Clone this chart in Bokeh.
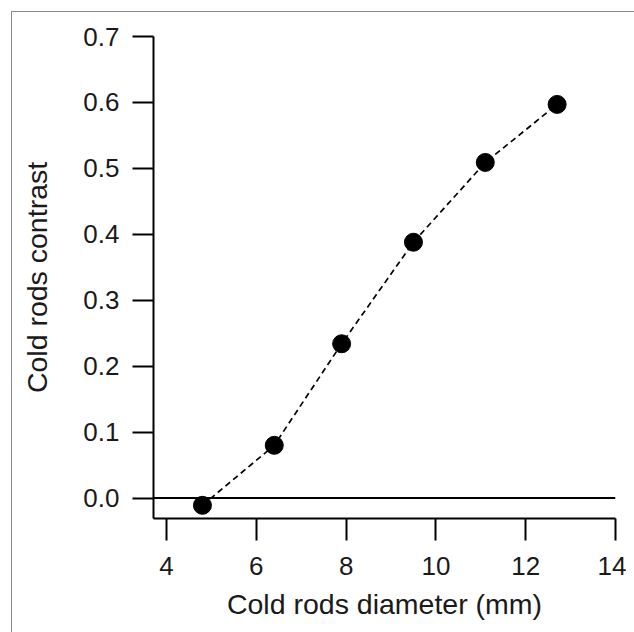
from bokeh.plotting import figure
from bokeh.models import Range1d, Span, FixedTicker, PrintfTickFormatter, InlineStyleSheet
from bokeh.embed import file_html
from bokeh.resources import INLINE

diameter_mm = [4.8, 6.4, 7.9, 9.5, 11.1, 12.7]
contrast = [-0.011, 0.080, 0.234, 0.388, 0.509, 0.597]
x_ticks = [4, 6, 8, 10, 12, 14]
y_ticks = [0.0, 0.1, 0.2, 0.3, 0.4, 0.5, 0.6, 0.7]

FONT = "Liberation Sans"

frame_css = InlineStyleSheet(css="""
:host { position: relative; }
:host::after {
  content: "";
  position: absolute;
  left: 11px; top: 11px; right: -8px; bottom: -8px;
  border-left: 1px solid #8a8a8a;
  border-top: 1px solid #8a8a8a;
  pointer-events: none;
}
""")

p = figure(width=626, height=624, output_backend="svg", toolbar_location=None,
           x_range=Range1d(3.71, 14), y_range=Range1d(-0.031, 0.7),
           min_border_left=153, min_border_right=11, min_border_top=36, min_border_bottom=106,
           stylesheets=[frame_css])
p.outline_line_color = None
p.grid.visible = False
p.background_fill_color = "white"
p.border_fill_color = "white"

p.add_layout(Span(location=0, dimension="width", line_color="black", line_width=2))

p.line(diameter_mm, contrast, line_color="black", line_width=1.7, line_dash="6 4")
p.scatter(diameter_mm, contrast, size=18, fill_color="black", line_color="black")

for ax in (p.xaxis[0], p.yaxis[0]):
    ax.axis_line_width = 2
    ax.axis_line_color = "black"
    ax.major_tick_line_width = 2
    ax.major_tick_line_color = "black"
    ax.major_tick_in = 0
    ax.minor_tick_line_color = None
    ax.major_label_text_font = FONT
    ax.major_label_text_font_size = "26px"
    ax.major_label_text_color = "#1a1a1a"
    ax.axis_label_text_font = FONT
    ax.axis_label_text_font_size = "28.5px"
    ax.axis_label_text_font_style = "normal"
    ax.axis_label_text_color = "#1a1a1a"

p.xaxis.ticker = FixedTicker(ticks=x_ticks)
p.yaxis.ticker = FixedTicker(ticks=y_ticks)
p.yaxis.formatter = PrintfTickFormatter(format="%.1f")
p.xaxis.major_tick_out = 22
p.yaxis.major_tick_out = 21
p.xaxis.major_label_standoff = 16
p.yaxis.major_label_standoff = 13
p.xaxis.axis_label = "Cold rods diameter (mm)"
p.yaxis.axis_label = "Cold rods contrast"
p.xaxis.axis_label_standoff = 10
p.yaxis.axis_label_standoff = 27

open("out.html", "w").write(file_html(p, INLINE))
